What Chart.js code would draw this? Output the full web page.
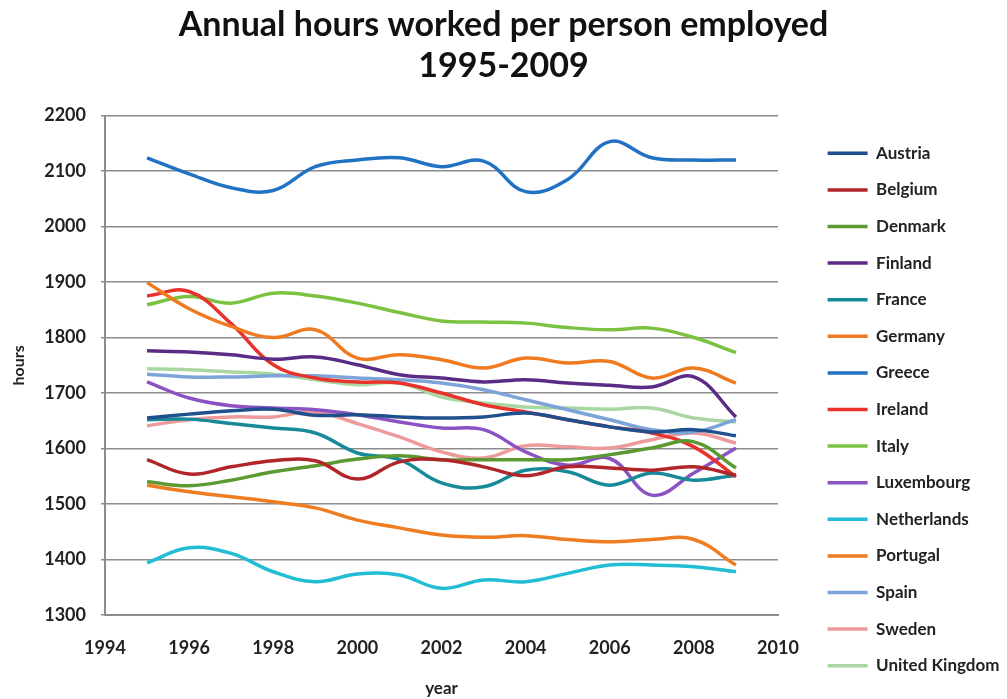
<!DOCTYPE html>
<html><head><meta charset="utf-8">
<script src="https://cdn.jsdelivr.net/npm/chart.js@4/dist/chart.umd.min.js"></script>
<style>html,body{margin:0;padding:0;background:#fff;overflow:hidden}</style>
</head><body>
<canvas id="c" width="1007" height="699"></canvas>
<script>
const years = [1995,1996,1997,1998,1999,2000,2001,2002,2003,2004,2005,2006,2007,2008,2009];
const countries = ["Austria","Belgium","Denmark","Finland","France","Germany","Greece","Ireland","Italy","Luxembourg","Netherlands","Portugal","Spain","Sweden","United Kingdom"];
const austria     = [1655,1662,1668,1671,1660,1661,1657,1655,1657,1664,1652,1639,1630,1634,1623];
const belgium     = [1580,1554,1567,1578,1578,1545,1576,1580,1567,1551,1567,1565,1561,1567,1552];
const denmark     = [1540,1533,1543,1558,1569,1581,1587,1580,1580,1580,1580,1589,1601,1612,1565];
const finland     = [1776,1774,1769,1761,1765,1751,1733,1727,1720,1724,1718,1714,1711,1729,1657];
const france      = [1652,1653,1645,1637,1628,1592,1580,1538,1531,1561,1558,1534,1556,1543,1552];
const germany     = [1899,1852,1820,1800,1814,1763,1769,1760,1745,1763,1754,1757,1727,1745,1718];
const greece      = [2124,2095,2070,2065,2108,2120,2124,2108,2118,2063,2085,2153,2124,2120,2120];
const ireland     = [1875,1883,1825,1751,1727,1720,1718,1700,1679,1666,1652,1639,1628,1603,1549];
const italy       = [1859,1874,1862,1880,1875,1862,1845,1830,1828,1826,1818,1814,1817,1800,1773];
const luxembourg  = [1720,1691,1677,1673,1670,1661,1648,1637,1634,1594,1570,1582,1516,1556,1601];
const netherlands = [1394,1421,1411,1378,1360,1374,1372,1348,1363,1360,1375,1390,1390,1387,1378];
const portugal    = [1534,1522,1513,1504,1493,1471,1457,1444,1440,1443,1436,1432,1436,1436,1390];
const spain       = [1734,1729,1729,1731,1731,1727,1724,1718,1706,1688,1670,1652,1634,1630,1652];
const sweden      = [1641,1652,1657,1657,1666,1645,1621,1594,1583,1605,1603,1601,1616,1628,1610];
const uk          = [1744,1742,1738,1734,1724,1715,1718,1693,1682,1675,1673,1671,1673,1655,1648];
const seriesValues = [austria,belgium,denmark,finland,france,germany,greece,ireland,italy,luxembourg,netherlands,portugal,spain,sweden,uk];
const colors = ["#1F4F8C","#B0262A","#5A9A30","#5A2C86","#178A9A","#F07A20","#2272C3","#E8322C","#7CC242","#8A52C2","#22BCD4","#EE7D22","#7CA4D8","#EC9A9A","#A9D6A1"];
const xTicks = [1994,1996,1998,2000,2002,2004,2006,2008,2010];
const yTicks = [1300,1400,1500,1600,1700,1800,1900,2000,2100,2200];

const FONT = "Lato, 'Open Sans', sans-serif";
const TXT = "#222";
const GRID = "#8c8c8c";

const datasets = countries.map((name, i) => ({
  label: name,
  data: years.map((y, j) => ({x: y, y: seriesValues[i][j]})),
  borderColor: colors[i],
  backgroundColor: colors[i],
  borderWidth: 3.5,
  pointRadius: 0,
  tension: 0.4,
  fill: false
}));

const legendFix = {
  id: 'legendFix',
  afterInit(chart) {
    const lg = chart.legend;
    const orig = lg.fit.bind(lg);
    lg.fit = function() { orig(); this.width = 1007 - 778; };
  },
  afterLayout(chart) {
    const lg = chart.legend;
    lg.left += 30;
    lg.top += 60; lg.bottom += 60;
  }
};

new Chart(document.getElementById('c'), {
  type: 'line',
  data: { datasets },
  plugins: [legendFix],
  options: {
    responsive: false,
    animation: false,
    devicePixelRatio: 1,
    layout: { padding: 0 },
    plugins: {
      tooltip: { enabled: false },
      title: {
        display: true,
        text: ["Annual hours worked per person employed", "1995-2009"],
        color: "#111",
        font: { family: FONT, size: 34, weight: 'bold', lineHeight: 1.2 },
        padding: { top: 5, bottom: 29 }
      },
      legend: {
        position: 'right',
        labels: {
          usePointStyle: true,
          pointStyle: 'line',
          pointStyleWidth: 40,
          padding: 19.6,
          color: TXT,
          font: { family: FONT, size: 17, weight: 'bold' }
        }
      }
    },
    scales: {
      x: {
        type: 'linear',
        min: 1994, max: 2010,
        afterBuildTicks(scale) { scale.ticks = xTicks.map(v => ({value: v})); },
        afterFit(scale) { scale.height = 84; },
        grid: { display: false },
        border: { display: true, color: GRID, width: 2 },
        ticks: { color: TXT, padding: 14, maxRotation: 0, callback: v => String(v), font: { family: FONT, size: 18, weight: 'bold' } },
        title: { display: true, text: 'year', color: TXT, padding: { top: 0, bottom: 0 }, font: { family: FONT, size: 17, weight: 'bold' } }
      },
      y: {
        min: 1300, max: 2200,
        afterBuildTicks(scale) { scale.ticks = yTicks.map(v => ({value: v})); },
        afterFit(scale) { scale.width = 105; },
        grid: { color: GRID, lineWidth: 1.5, tickLength: 4, drawTicks: true },
        border: { display: true, color: GRID, width: 2 },
        ticks: { color: TXT, padding: 15, callback: v => String(v), font: { family: FONT, size: 18, weight: 'bold' } },
        title: { display: true, text: 'hours', color: TXT, padding: { top: 9, bottom: 0 }, font: { family: FONT, size: 16, weight: 'bold' } }
      }
    }
  }
});
</script>
</body></html>
